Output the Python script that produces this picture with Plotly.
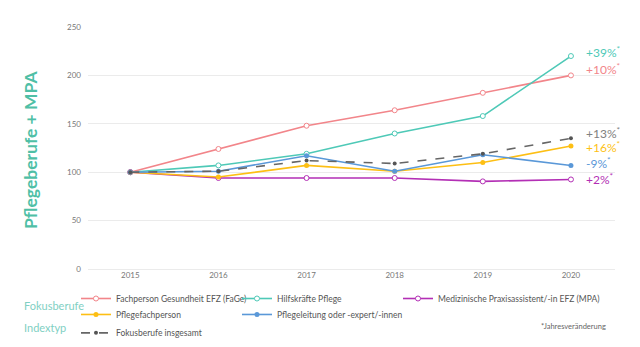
import plotly.graph_objects as go

years = [2015, 2016, 2017, 2018, 2019, 2020]
fage = [100, 124, 148, 164, 182, 200]
hilfs = [100, 107, 119, 140, 158, 220]
mpa = [100, 94, 94, 94, 90.5, 92.5]
pflegefach = [100, 95, 107, 101, 110, 127]
pflegeleitung = [100, 101, 117, 101, 118, 107]
total = [100, 101, 112, 109, 119, 135]

series_names = ["Fachperson Gesundheit EFZ (FaGe)", "Hilfskräfte Pflege",
                "Medizinische Praxisassistent/-in EFZ (MPA)", "Pflegefachperson",
                "Pflegeleitung oder -expert/-innen"]
changes = ["+39%", "+10%", "+13%", "+16%", "-9%", "+2%"]
change_y = [224, 207, 141, 126.5, 109, 92.5]

C_PINK = "#f2858a"
C_TEAL = "#4ec9b7"
C_PURPLE = "#b32fb5"
C_YELLOW = "#fdbf14"
C_BLUE = "#5a98d8"
C_GRAY = "#666666"
C_TITLE = "#4fbfa6"
FONT = "Lato"

fig = go.Figure()

def open_trace(name, y, color, legend, lw=None):
    return go.Scatter(x=years, y=y, name=name, mode="lines+markers",
                      line=dict(color=color, width=1.6),
                      marker=dict(symbol="circle", size=5, color="white",
                                  line=dict(color=color, width=1)),
                      legend=legend, legendwidth=lw)

def filled_trace(name, y, color, legend, lw=None):
    return go.Scatter(x=years, y=y, name=name, mode="lines+markers",
                      line=dict(color=color, width=1.6),
                      marker=dict(symbol="circle", size=5, color=color),
                      legend=legend, legendwidth=lw)

fig.add_trace(open_trace(series_names[0], fage, C_PINK, "legend", 116))
fig.add_trace(open_trace(series_names[1], hilfs, C_TEAL, "legend", 116))
fig.add_trace(open_trace(series_names[2], mpa, C_PURPLE, "legend"))
fig.add_trace(filled_trace(series_names[3], pflegefach, C_YELLOW, "legend3", 116))
fig.add_trace(filled_trace(series_names[4], pflegeleitung, C_BLUE, "legend3"))
fig.add_trace(go.Scatter(x=years, y=total, name="Fokusberufe insgesamt",
                         mode="lines+markers",
                         line=dict(color=C_GRAY, width=1.6, dash="dash"),
                         marker=dict(symbol="circle", size=4, color="#555555"),
                         legend="legend2"))

ann_colors = [C_TEAL, C_PINK, "#808080", C_YELLOW, C_BLUE, C_PURPLE]
annotations = []
for txt, yv, col in zip(changes, change_y, ann_colors):
    annotations.append(dict(x=years[-1], y=yv, xref="x", yref="y", xanchor="left",
                            yanchor="middle", xshift=13, showarrow=False,
                            text=txt + "<sup>*</sup>",
                            font=dict(family=FONT, size=12, color=col)))

annotations.append(dict(x=-0.108, y=0.492, xref="paper", yref="paper", textangle=-90,
                        xanchor="center", yanchor="middle",
                        showarrow=False, text="<b>Pflegeberufe + MPA</b>",
                        font=dict(family=FONT, size=17.5, color=C_TITLE)))
annotations.append(dict(x=-0.125, y=-0.149, xref="paper", yref="paper", xanchor="left",
                        yanchor="middle", showarrow=False, text="Fokusberufe",
                        font=dict(family=FONT, size=11, color="#7fd0c3")))
annotations.append(dict(x=-0.125, y=-0.24, xref="paper", yref="paper", xanchor="left",
                        yanchor="middle", showarrow=False, text="Indextyp",
                        font=dict(family=FONT, size=11, color="#7fd0c3")))
annotations.append(dict(x=0.987, y=-0.237, xref="paper", yref="paper", xanchor="right",
                        yanchor="middle", showarrow=False, text="*Jahresveränderung",
                        font=dict(family=FONT, size=7.5, color="#666666")))

leg_common = dict(orientation="h", x=-0.0228, xanchor="left", yanchor="top",
                  itemwidth=30, font=dict(family=FONT, size=8.5, color="#555555"),
                  bgcolor="rgba(0,0,0,0)")

fig.update_layout(
    width=640, height=347,
    margin=dict(l=88, r=25, t=27, b=78, autoexpand=False),
    paper_bgcolor="white", plot_bgcolor="white",
    font=dict(family=FONT, size=8, color="#777777"),
    showlegend=True,
    xaxis=dict(range=[2014.52, 2020.5], tickvals=years, showgrid=False,
               zeroline=False, showline=False, ticks="",
               tickfont=dict(size=8, color="#777777")),
    yaxis=dict(range=[0, 250], tickvals=[0, 50, 100, 150, 200, 250],
               showgrid=True, gridcolor="#ebebeb", gridwidth=1,
               zeroline=True, zerolinecolor="#ebebeb", zerolinewidth=1,
               showline=False, ticks="", ticklabelstandoff=6,
               tickfont=dict(size=8, color="#777777")),
    legend=dict(y=-0.062, **leg_common),
    legend3=dict(y=-0.128, **leg_common),
    legend2=dict(y=-0.204, **leg_common),
    annotations=annotations,
)

fig.write_html("out.html")
